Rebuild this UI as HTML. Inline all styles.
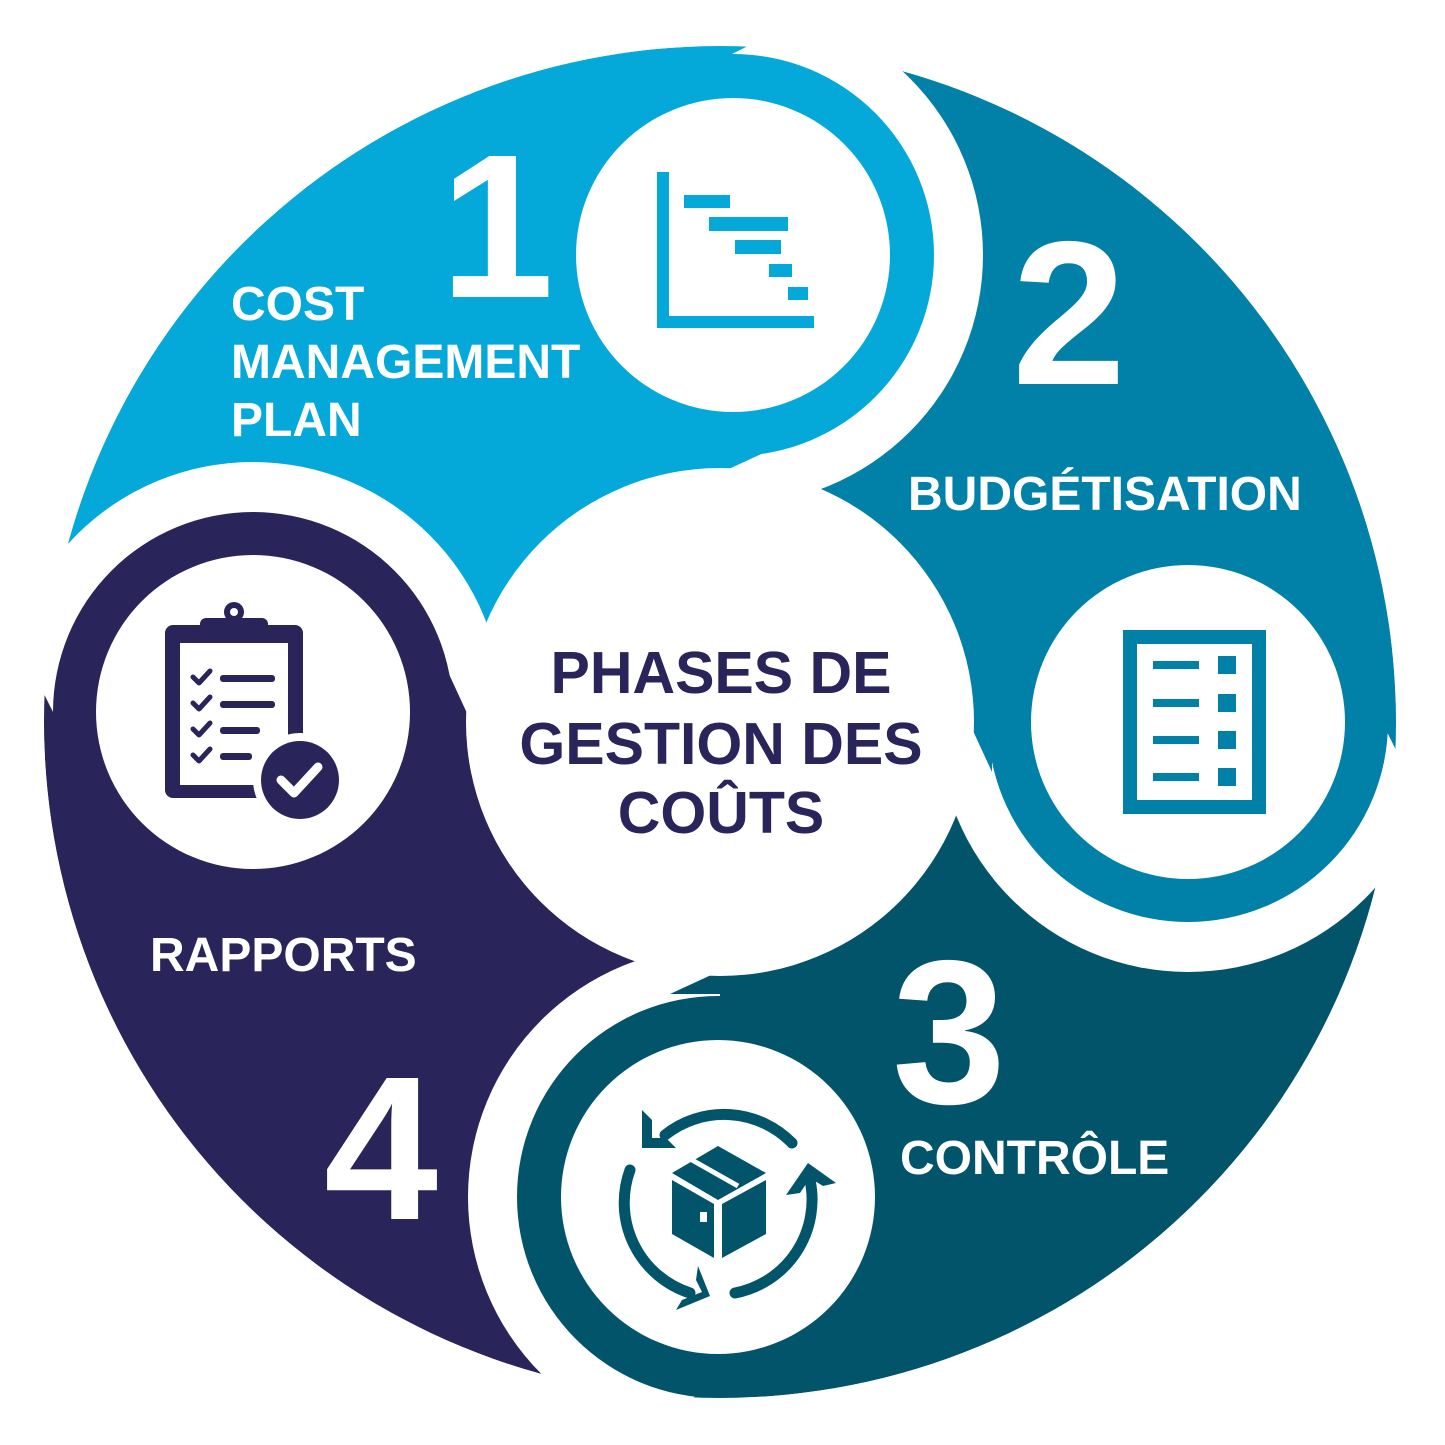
<!DOCTYPE html>
<html><head><meta charset="utf-8"><style>
html,body{margin:0;padding:0;background:#fff;}
svg{display:block;}
text{font-family:"Liberation Sans",Arial,sans-serif;font-weight:bold;}
</style></head><body>
<svg width="1445" height="1445" viewBox="0 0 1445 1445" xmlns="http://www.w3.org/2000/svg">
<defs>
<g id="fill1" fill="#fff">
<polygon points="705,450 770,450 705,480"/>
<polygon points="700,30 780,30 700,70"/>
</g>
<mask id="m1" maskUnits="userSpaceOnUse" x="0" y="0" width="1445" height="1445">
<path d="M720,722 L44,722 A676,676 0 0 1 720,46 Z" fill="#fff"/>
<use href="#fill1"/>
<circle cx="720" cy="722" r="254" fill="#000"/>
<circle cx="733" cy="255" r="201" fill="#fff"/>
<circle cx="253" cy="712" r="250" fill="#000"/>
</mask>
<mask id="m2" maskUnits="userSpaceOnUse" x="0" y="0" width="1445" height="1445">
<path d="M720,722 L720,46 A676,676 0 0 1 1396,722 Z" fill="#fff"/>
<use href="#fill1" transform="rotate(90 720 722)"/>
<circle cx="720" cy="722" r="254" fill="#000"/>
<circle cx="1188" cy="722" r="200" fill="#fff"/>
<circle cx="733" cy="255" r="250" fill="#000"/>
</mask>
<mask id="m3" maskUnits="userSpaceOnUse" x="0" y="0" width="1445" height="1445">
<path d="M720,722 L1396,722 A676,676 0 0 1 720,1398 Z" fill="#fff"/>
<use href="#fill1" transform="rotate(180 720 722)"/>
<circle cx="720" cy="722" r="254" fill="#000"/>
<circle cx="718" cy="1197" r="201" fill="#fff"/>
<circle cx="1188" cy="722" r="250" fill="#000"/>
</mask>
<mask id="m4" maskUnits="userSpaceOnUse" x="0" y="0" width="1445" height="1445">
<path d="M720,722 L720,1398 A676,676 0 0 1 44,722 Z" fill="#fff"/>
<use href="#fill1" transform="rotate(270 720 722)"/>
<circle cx="720" cy="722" r="254" fill="#000"/>
<circle cx="253" cy="712" r="200" fill="#fff"/>
<circle cx="718" cy="1197" r="250" fill="#000"/>
</mask>
<clipPath id="big"><circle cx="720" cy="722" r="676"/></clipPath>
</defs>
<g clip-path="url(#big)">
<rect width="1445" height="1445" fill="#05a9d9" mask="url(#m1)"/>
<rect width="1445" height="1445" fill="#0180a8" mask="url(#m2)"/>
<rect width="1445" height="1445" fill="#02546b" mask="url(#m3)"/>
<rect width="1445" height="1445" fill="#29245a" mask="url(#m4)"/>
</g>

<circle cx="733" cy="255" r="157" fill="#fff"/>
<circle cx="1188" cy="722" r="157" fill="#fff"/>
<circle cx="718" cy="1197" r="157" fill="#fff"/>
<circle cx="253" cy="712" r="157" fill="#fff"/>

<!-- Gantt icon -->
<g fill="#05a9d9">
<rect x="657" y="172" width="12" height="156"/>
<rect x="657" y="316" width="157" height="12"/>
<rect x="684" y="195" width="46" height="13"/>
<rect x="709" y="217" width="79" height="14"/>
<rect x="735" y="240" width="46" height="14"/>
<rect x="769" y="264" width="23" height="13"/>
<rect x="788" y="287" width="20" height="13"/>
</g>

<!-- Document icon -->
<g fill="#0180a8">
<rect x="1130" y="637" width="129" height="170" fill="none" stroke="#0180a8" stroke-width="14"/>
<rect x="1153" y="661" width="46" height="8"/><rect x="1218" y="656" width="18" height="18"/>
<rect x="1153" y="699" width="46" height="8"/><rect x="1218" y="694" width="18" height="18"/>
<rect x="1153" y="736" width="46" height="8"/><rect x="1218" y="731" width="18" height="18"/>
<rect x="1153" y="773" width="46" height="8"/><rect x="1218" y="768" width="18" height="18"/>
</g>

<!-- Clipboard icon -->
<g>
<rect x="165" y="625" width="138" height="173" rx="8" fill="#29245a"/>
<rect x="180" y="643" width="108" height="142" fill="#fff"/>
<rect x="200" y="618" width="68" height="24" rx="6" fill="#29245a"/>
<circle cx="234" cy="612" r="10" fill="#29245a"/>
<circle cx="234" cy="612" r="4" fill="#fff"/>
<g stroke="#29245a" stroke-width="5" fill="none" stroke-linecap="round" stroke-linejoin="round">
<path d="M193,677 l6,6 l11,-12"/><path d="M193,703 l6,6 l11,-12"/>
<path d="M193,729 l6,6 l11,-12"/><path d="M193,755 l6,6 l11,-12"/>
</g>
<g fill="#29245a">
<rect x="220" y="675" width="55" height="7" rx="3"/>
<rect x="220" y="701" width="55" height="7" rx="3"/>
<rect x="220" y="727" width="40" height="7" rx="3"/>
<rect x="220" y="753" width="32" height="7" rx="3"/>
</g>
<circle cx="300" cy="780" r="47" fill="#fff"/>
<circle cx="300" cy="780" r="39" fill="#29245a"/>
<path d="M281,780 l13,13 l24,-26" stroke="#fff" stroke-width="9" fill="none" stroke-linecap="round" stroke-linejoin="round"/>
</g>

<!-- Box & cycle icon -->
<g fill="none" stroke="#02546b" stroke-width="11" stroke-linecap="round">
<path d="M665,1135 A95,95 0 0 1 792,1143"/>
<path d="M810,1180 A95,95 0 0 1 735,1293"/>
<path d="M690,1293 A95,95 0 0 1 630,1170"/>
</g>
<g fill="#02546b">
<path d="M642,1110 l0,38 l34,0 l-10,-10 l-14,0 l0,-18 z"/>
<path d="M786,1195 l22,-32 l28,20 l-13,3 l-13,-8 l-10,15 z"/>
<path d="M676,1310 l34,-14 l-12,-30 l-2,14 l6,12 l-20,8 z"/>
<path d="M672,1173 l46,-27 l48,27 l-48,27 z"/>
<path d="M672,1180 l42,24 l0,54 l-42,-24 z"/>
<path d="M722,1204 l44,-24 l0,54 l-44,24 z"/>
</g>
<path d="M692,1160 l46,26" stroke="#fff" stroke-width="5"/>
<rect x="700" y="1212" width="7" height="10" fill="#fff"/>

<!-- Numbers -->
<g fill="#fff" font-size="205">
<text x="440" y="297">1</text>
<text x="1012" y="384">2</text>
<text x="892" y="1103">3</text>
<text x="324" y="1219">4</text>
</g>
<!-- Labels -->
<g fill="#fff" font-size="48">
<text x="231" y="320">COST</text>
<text x="231" y="378">MANAGEMENT</text>
<text x="231" y="436">PLAN</text>
<text x="908" y="510">BUDGÉTISATION</text>
<text x="900" y="1174">CONTRÔLE</text>
<text x="150" y="971">RAPPORTS</text>
</g>
<g fill="#29245a" font-size="59" text-anchor="middle">
<text x="721" y="693">PHASES DE</text>
<text x="721" y="764">GESTION DES</text>
<text x="721" y="833">COÛTS</text>
</g>
</svg>
</body></html>
